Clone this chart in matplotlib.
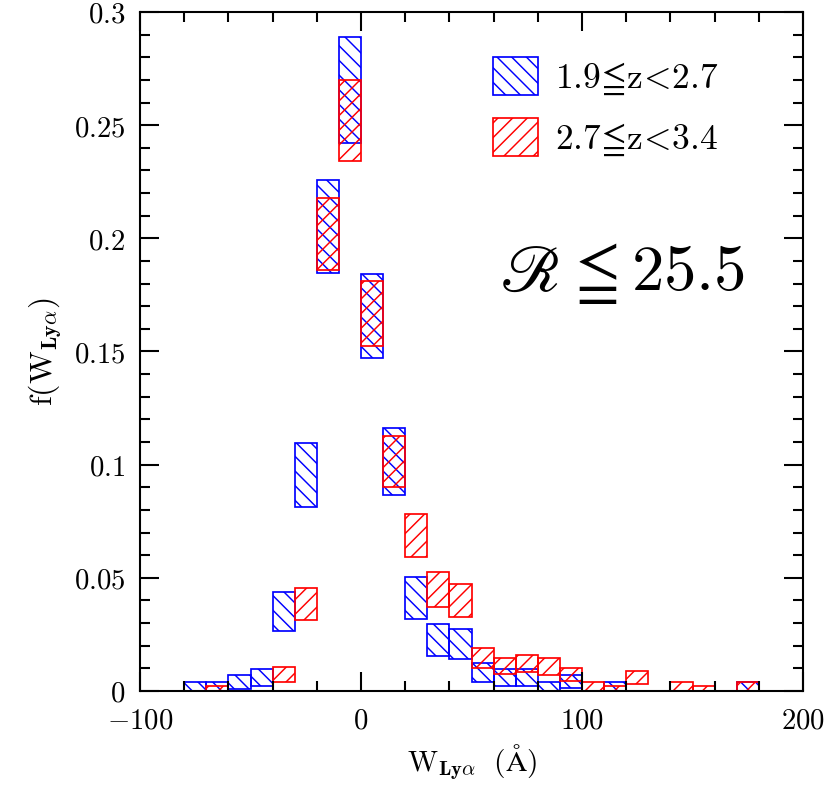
import numpy as np
import matplotlib
matplotlib.use('Agg')
import matplotlib.pyplot as plt
from matplotlib.patches import Patch
from matplotlib.ticker import MultipleLocator, FuncFormatter

# bin left edges (width 10 A) and lower/upper bounds of f(W)
blue_left = [-80, -70, -60, -50, -40, -30, -20, -10, 0, 10, 20, 30, 40, 50, 60, 70, 80, 90, 110, 170]
blue_lo = [0.0, 0.0, 0.001, 0.002, 0.0265, 0.0812, 0.1846, 0.242, 0.1471, 0.0868, 0.0318, 0.0156,
           0.014, 0.0041, 0.0022, 0.0022, 0.0, 0.0012, 0.0, 0.0]
blue_hi = [0.004, 0.004, 0.007, 0.0097, 0.0436, 0.1094, 0.2258, 0.2891, 0.1843, 0.1161, 0.0505, 0.0296,
           0.0273, 0.0122, 0.0097, 0.0097, 0.0038, 0.0071, 0.0038, 0.0038]

red_left = [-70, -40, -30, -20, -10, 0, 10, 20, 30, 40, 50, 60, 70, 80, 90, 100, 110, 120, 140, 150, 170]
red_lo = [0.0, 0.0041, 0.0314, 0.186, 0.2342, 0.1525, 0.0901, 0.0593, 0.0373, 0.0328, 0.0103, 0.0074,
          0.0085, 0.0071, 0.0046, 0.0, 0.0, 0.0032, 0.0, 0.0, 0.0]
red_hi = [0.002, 0.0105, 0.0457, 0.2178, 0.270, 0.1813, 0.1127, 0.0784, 0.0525, 0.0471, 0.0189, 0.0144,
          0.0159, 0.0147, 0.0103, 0.004, 0.0022, 0.009, 0.004, 0.0022, 0.004]

labels = [r'$1.9\!\leqq\!\mathrm{z}\!<\!2.7$', r'$2.7\!\leqq\!\mathrm{z}\!<\!3.4$']

plt.rcParams['mathtext.fontset'] = 'cm'
plt.rcParams['hatch.linewidth'] = 1.2
plt.rcParams['axes.linewidth'] = 1.7

dpi = 88
fig = plt.figure(figsize=(830 / dpi, 788 / dpi), dpi=dpi)
ax = fig.add_axes([140 / 830, 1 - 691 / 788, 663 / 830, 679 / 788])

blue_h = np.array(blue_hi) - np.array(blue_lo)
red_h = np.array(red_hi) - np.array(red_lo)
ax.bar(blue_left, blue_h, bottom=blue_lo, width=10, align='edge', fill=False,
       edgecolor='blue', hatch='\\\\', linewidth=1.4)
ax.bar(red_left, red_h, bottom=red_lo, width=10, align='edge', fill=False,
       edgecolor='red', hatch='//', linewidth=1.4)

ax.set_xlim(-100, 200)
ax.set_ylim(0, 0.3)
ax.xaxis.set_major_locator(MultipleLocator(100))
ax.xaxis.set_minor_locator(MultipleLocator(20))
ax.yaxis.set_major_locator(MultipleLocator(0.05))
ax.yaxis.set_minor_locator(MultipleLocator(0.01))
ax.xaxis.set_major_formatter(FuncFormatter(lambda v, p: r'$%g$' % v))
ax.yaxis.set_major_formatter(FuncFormatter(lambda v, p: r'$%g$' % round(v, 3)))
ax.tick_params(which='both', direction='in', top=True, right=True, width=1.7, labelsize=23.5)
ax.tick_params(which='major', length=15.5)
ax.tick_params(which='minor', length=8)
ax.tick_params(axis='x', pad=13)
ax.tick_params(axis='y', pad=12)

ax.set_xlabel(r'$\mathrm{W}_{\mathbf{Ly\alpha}}\ \ (\mathrm{\AA})$', fontsize=24, labelpad=6)
ax.set_ylabel(r'$\mathrm{f(W}_{\mathbf{Ly\alpha}}\mathrm{)}$', fontsize=26, labelpad=8)

handles = [Patch(facecolor='none', edgecolor='blue', hatch='\\\\', linewidth=1.4),
           Patch(facecolor='none', edgecolor='red', hatch='//', linewidth=1.4)]
ax.legend(handles, labels, loc='upper left', bbox_to_anchor=(0.532, 0.934), frameon=False,
          borderpad=0, borderaxespad=0, fontsize=29, handlelength=1.27, handleheight=1.27,
          handletextpad=0.48, labelspacing=0.6)

ax.text(0.543, 0.59, r'$\mathscr{R}$', transform=ax.transAxes, fontsize=53, math_fontfamily='stix',
        va='baseline', ha='left')
ax.text(0.64, 0.59, r'${\leqq}25.5$', transform=ax.transAxes, fontsize=53, va='baseline', ha='left')

fig.savefig('out.png', dpi=dpi)
